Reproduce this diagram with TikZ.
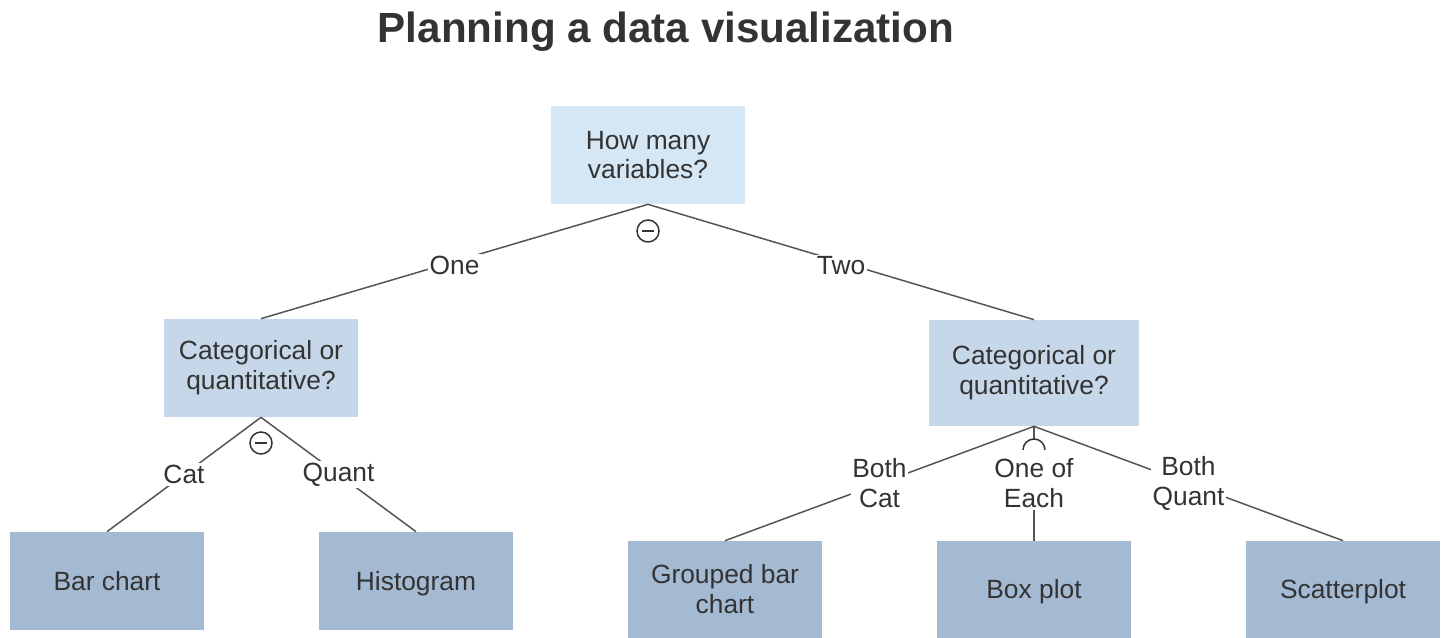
\documentclass[tikz,border=0pt]{standalone}
\usepackage{fontspec}
\setmainfont{Liberation Sans}
\usetikzlibrary{positioning}
\definecolor{ink}{HTML}{333333}
\definecolor{edge}{HTML}{555555}
\definecolor{rootblue}{HTML}{D5E7F5}
\definecolor{midblue}{HTML}{C5D7E8}
\definecolor{leafblue}{HTML}{A4B9D2}

\begin{document}
\begin{tikzpicture}[x=0.02cm,y=-0.02cm,
  box/.style={inner sep=0pt,minimum width=3.88cm,minimum height=1.96cm,align=center,text=ink,font=\fontsize{15}{17}\selectfont},
  oneline/.style={text height=10.7pt,text depth=0pt},
  lbl/.style={fill=white,inner sep=1pt,align=center,text=ink,font=\fontsize{15}{17}\selectfont},
  link/.style={edge,line width=0.85pt}]
 \useasboundingbox (0,0) rectangle (1456,638);
 \node[anchor=base,text=ink,font=\bfseries\fontsize{24}{28}\selectfont] (title) at (666,43) {Planning a data visualization};
 \node[box,fill=rootblue] (root) at (648,155) {How many\\variables?};
 \node[box,fill=midblue] (oneq) at (261,368) {Categorical or\\quantitative?};
 \node[box,fill=midblue,minimum width=4.2cm,minimum height=2.12cm] (twoq) at (1034,373) {Categorical or\\quantitative?};
 \node[box,oneline,fill=leafblue] (bar) at (107,581) {Bar chart};
 \node[box,oneline,fill=leafblue] (hist) at (416,581) {Histogram};
 \node[box,fill=leafblue,minimum height=1.94cm] (gbar) at (725,589.5) {Grouped bar\\chart};
 \node[box,oneline,fill=leafblue,minimum height=1.94cm] (boxp) at (1034,589.5) {Box plot};
 \node[box,oneline,fill=leafblue,minimum height=1.94cm] (scat) at (1343,589.5) {Scatterplot};
 \draw[link] (root.south) -- (oneq.north) node[lbl,midway,yshift=-2] (lone) {One};
 \draw[link] (root.south) -- (twoq.north) node[lbl,midway,yshift=-2] (ltwo) {Two};
 \draw[link] (oneq.south) -- (bar.north) node[lbl,midway] (lcat) {Cat};
 \draw[link] (oneq.south) -- (hist.north) node[lbl,midway] (lquant) {Quant};
 \draw[link] (twoq.south) -- (gbar.north) node[lbl,midway] (lbcat) {Both\\Cat};
 \draw[link] (twoq.south) -- (boxp.north);
 \draw[link] (twoq.south) -- (scat.north) node[lbl,midway] (lbquant) {Both\\Quant};
 \foreach \cx/\cy in {648/231,261/443}{
  \draw[ink,line width=0.85pt,fill=white] (\cx,\cy) circle[radius=11];
  \draw[ink,line width=0.85pt] (\cx-6,\cy) -- (\cx+6,\cy);
 }
 \fill[white] (1034,450) circle[radius=11];
 \draw[ink,line width=0.85pt] (1023,450) arc[start angle=180,end angle=360,radius=11];
 \path (twoq.south) -- (boxp.north) node[lbl,midway] (leach) {One of\\Each};
\end{tikzpicture}
\end{document}
